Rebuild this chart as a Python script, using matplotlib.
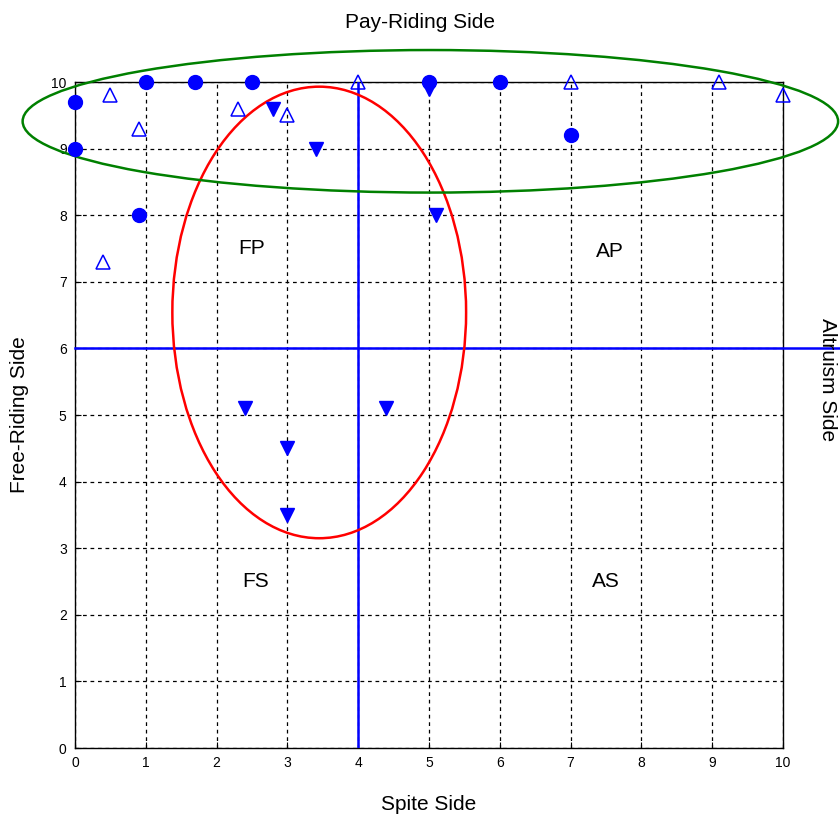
import matplotlib
matplotlib.use("Agg")
import matplotlib.pyplot as plt
from matplotlib.patches import Ellipse

plt.rcParams['font.family'] = ['Liberation Sans', 'DejaVu Sans']

# Data
circ_x = [0, 0, 1.0, 1.7, 2.5, 0.9, 5.0, 6.0, 7.0]
circ_y = [9.7, 9.0, 10, 10, 10, 8.0, 10, 10, 9.2]
tri_up_x = [0.5, 0.9, 2.3, 3.0, 4.0, 7.0, 9.1, 10.0, 0.4]
tri_up_y = [9.8, 9.3, 9.6, 9.5, 10, 10, 10, 9.8, 7.3]
tri_dn_x = [2.8, 3.4, 5.1, 2.4, 4.4, 3.0, 3.0, 5.0]
tri_dn_y = [9.6, 9.0, 8.0, 5.1, 5.1, 4.5, 3.5, 9.9]
ticks = list(range(0, 11))
quad_labels = ["FP", "AP", "FS", "AS"]
quad_x = [2.5, 7.55, 2.55, 7.5]
quad_y = [7.5, 7.45, 2.5, 2.5]

fig = plt.figure(figsize=(8.4, 8.16), dpi=100)
ax = fig.add_axes([0.0893, 0.0833, 0.932 - 0.0893, 0.8995 - 0.0833])
ax.set_xlim(0, 10)
ax.set_ylim(0, 10)
ax.set_xticks(ticks)
ax.set_yticks(ticks)
ax.tick_params(direction='in', labelsize=10, length=4, pad=6)
ax.grid(True, color='black', linestyle=(0, (3, 3)), linewidth=0.9)
ax.set_axisbelow(True)
for s in ax.spines.values():
    s.set_linewidth(1.0)

ax.axvline(4, color='blue', linewidth=1.8, zorder=3)
ax.plot([0, 10.85], [6, 6], color='blue', linewidth=1.8, clip_on=False, zorder=3)

ax.add_patch(Ellipse((3.45, 6.54), 4.15, 6.78, fill=False, edgecolor='red', linewidth=1.8, clip_on=False, zorder=4))
ax.add_patch(Ellipse((5.02, 9.41), 11.52, 2.14, fill=False, edgecolor='green', linewidth=1.8, clip_on=False, zorder=4))

ax.plot(circ_x, circ_y, 'o', color='blue', markersize=10, clip_on=False, zorder=5)
ax.plot(tri_dn_x, tri_dn_y, 'v', color='blue', markersize=10, clip_on=False, zorder=5)
ax.plot(tri_up_x, tri_up_y, '^', markerfacecolor='none', markeredgecolor='blue', markeredgewidth=1.1, markersize=10, clip_on=False, zorder=5)

for lab, x, y in zip(quad_labels, quad_x, quad_y):
    ax.text(x, y, lab, fontsize=15, ha='center', va='center')

ax.set_xlabel("Spite Side", fontsize=15, labelpad=18)
ax.set_ylabel("Free-Riding Side", fontsize=15, labelpad=16)
fig.text(0.5, 0.972, "Pay-Riding Side", fontsize=15, ha='center', va='center')
fig.text(0.985, 0.535, "Altruism Side", fontsize=15, ha='center', va='center', rotation=-90)

fig.savefig("out.png", dpi=100)
